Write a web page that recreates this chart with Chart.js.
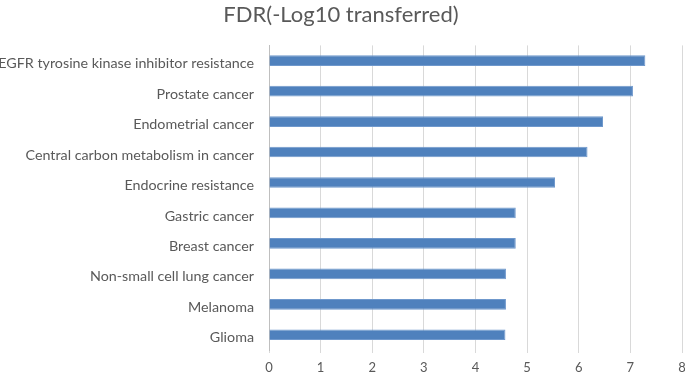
<!DOCTYPE html>
<html>
<head>
<meta charset="utf-8">
<script src="https://cdn.jsdelivr.net/npm/chart.js@4"></script>
<style>
  html, body { margin: 0; padding: 0; background: #fff; }
  #wrap { width: 685px; height: 376px; }
</style>
</head>
<body>
<div id="wrap"><canvas id="fdrChart" width="685" height="376"></canvas></div>
<script>
const pathways = [
  "EGFR tyrosine kinase inhibitor resistance",
  "Prostate cancer",
  "Endometrial cancer",
  "Central carbon metabolism in cancer",
  "Endocrine resistance",
  "Gastric cancer",
  "Breast cancer",
  "Non-small cell lung cancer",
  "Melanoma",
  "Glioma"
];
const fdrValues = [7.29, 7.05, 6.47, 6.17, 5.54, 4.78, 4.78, 4.59, 4.59, 4.58];
const xTicks = [0, 1, 2, 3, 4, 5, 6, 7, 8];

const textGray = "#595959";

const ctx = document.getElementById('fdrChart').getContext('2d');

new Chart(ctx, {
  type: 'bar',
  data: {
    labels: pathways,
    datasets: [{
      label: 'FDR(-Log10 transferred)',
      data: fdrValues,
      backgroundColor: "#4f81bd",
      borderColor: "#6f98cc",
      borderWidth: 1,
      barPercentage: 0.7,
      categoryPercentage: 0.5
    }]
  },
  options: {
    indexAxis: 'y',
    responsive: false,
    animation: false,
    layout: { padding: { left: 0, right: 3, top: 0, bottom: 0 } },
    plugins: {
      legend: { display: false },
      tooltip: { enabled: false },
      title: {
        display: true,
        text: 'FDR(-Log10 transferred)',
        color: textGray,
        font: { family: 'Lato', size: 22, weight: 'normal' },
        padding: { top: 2, bottom: 17 }
      }
    },
    scales: {
      x: {
        min: 0,
        max: 8,
        afterBuildTicks: scale => { scale.ticks = xTicks.map(v => ({ value: v })); },
        afterFit: scale => {
          scale.height = 26;
          scale.paddingRight = 0;  // let the "8" run off the edge like the original
        },
        grid: { color: "#d9d9d9", tickLength: 3, drawTicks: true },
        border: { display: false },
        ticks: { color: textGray, font: { family: 'Lato', size: 13 }, padding: 7, maxRotation: 0 }
      },
      y: {
        afterFit: scale => { scale.width = 269; },
        grid: { display: false, drawTicks: false },
        border: { display: true, color: "#bfbfbf" },
        ticks: { color: textGray, font: { family: 'Lato', size: 14.3 }, padding: 15, labelOffset: 3, autoSkip: false }
      }
    }
  }
});
</script>
</body>
</html>
